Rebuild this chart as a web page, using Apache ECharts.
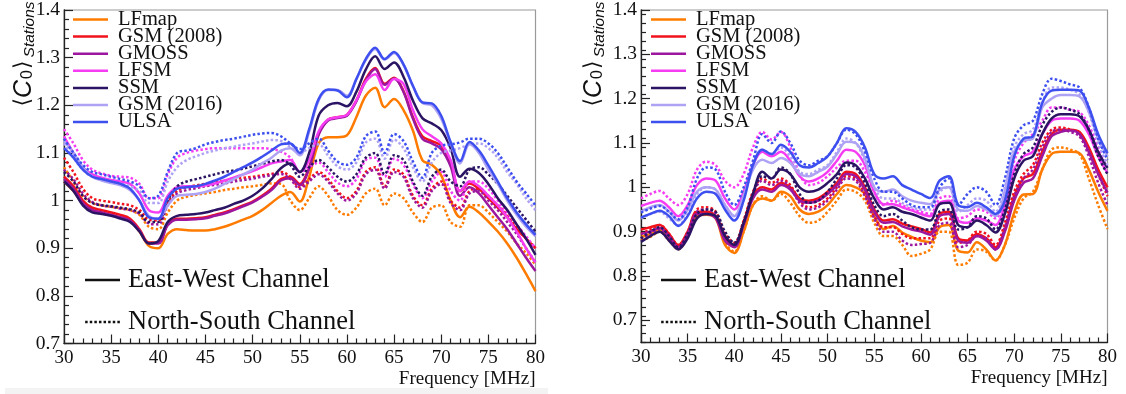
<!DOCTYPE html>
<html><head><meta charset="utf-8">
<script src="https://cdn.jsdelivr.net/npm/echarts@6.0.0/dist/echarts.min.js"></script>
<style>html,body{margin:0;padding:0;background:#fff}#c{width:1126px;height:394px}</style>
</head><body><div id="c"></div>
<script>
// Frequency samples [MHz]
const freq = [30,31,32,33,34,35,36,37,38,39,40,41,42,43,44,45,46,47,48,49,50,51,52,53,54,55,56,57,58,59,60,61,62,63,64,65,66,67,68,69,70,71,72,73,74,75,76,77,78,79,80];

const models = ['LFmap','GSM (2008)','GMOSS','LFSM','SSM','GSM (2016)','ULSA'];
const channelNames = ['East-West Channel','North-South Channel'];
const yTicks = [0.7,0.8,0.9,1.0,1.1,1.2,1.3,1.4];

// ---------- LEFT PANEL : East-West (solid) ----------
const lfmapEW_L = [1.04,1.02,0.995,0.98,0.975,0.97,0.965,0.958,0.935,0.905, 0.9,0.93,0.94,0.938,0.937,0.937,0.94,0.945,0.952,0.96, 0.968,0.98,0.995,1.01,1.018,0.998,1.05,1.12,1.133,1.133, 1.137,1.175,1.22,1.237,1.196,1.213,1.19,1.147,1.085,1.075, 1.053,1.0,0.965,0.987,0.975,0.956,0.935,0.91,0.88,0.846, 0.81];
const gsm08EW_L = [1.05,1.03,1.0,0.985,0.98,0.975,0.97,0.962,0.94,0.912, 0.912,0.95,0.962,0.962,0.963,0.965,0.97,0.975,0.982,0.99, 0.998,1.01,1.025,1.045,1.05,1.035,1.07,1.14,1.17,1.175, 1.18,1.21,1.255,1.278,1.245,1.258,1.23,1.175,1.135,1.125, 1.115,1.08,1.02,1.036,1.025,1.005,0.985,0.965,0.94,0.92, 0.9];
const gmossEW_L = [1.045,1.025,0.995,0.98,0.975,0.97,0.965,0.958,0.937,0.91, 0.91,0.948,0.96,0.96,0.961,0.963,0.968,0.973,0.98,0.988, 0.996,1.008,1.022,1.042,1.047,1.032,1.068,1.138,1.168,1.173, 1.178,1.208,1.252,1.276,1.243,1.256,1.228,1.172,1.13,1.12, 1.108,1.072,1.01,1.028,1.015,0.99,0.965,0.94,0.91,0.88, 0.852];
const lfsmEW_L = [1.135,1.1,1.07,1.055,1.048,1.043,1.04,1.035,1.015,0.98, 0.975,1.01,1.028,1.03,1.03,1.032,1.036,1.042,1.048,1.055, 1.062,1.07,1.078,1.082,1.085,1.06,1.085,1.145,1.17,1.175, 1.18,1.21,1.25,1.265,1.232,1.255,1.245,1.19,1.15,1.135, 1.12,1.085,1.02,1.04,1.03,1.01,0.99,0.965,0.935,0.9, 0.87];
const ssmEW_L = [1.04,1.02,0.99,0.975,0.972,0.968,0.962,0.955,0.935,0.91, 0.915,0.955,0.968,0.97,0.972,0.975,0.98,0.985,0.993,1.0, 1.01,1.025,1.045,1.068,1.078,1.06,1.1,1.178,1.2,1.205, 1.198,1.228,1.275,1.303,1.276,1.29,1.26,1.21,1.173,1.162, 1.148,1.11,1.05,1.067,1.058,1.035,1.005,0.98,0.95,0.92, 0.886];
const gsm16EW_L = [1.125,1.1,1.07,1.05,1.042,1.037,1.032,1.022,1.0,0.968, 0.962,0.99,1.01,1.012,1.014,1.018,1.025,1.035,1.045,1.055, 1.065,1.078,1.09,1.105,1.11,1.095,1.145,1.21,1.232,1.232, 1.22,1.255,1.295,1.318,1.296,1.31,1.285,1.24,1.205,1.2, 1.172,1.12,1.078,1.118,1.1,1.065,1.035,1.0,0.97,0.945, 0.925];
const ulsaEW_L = [1.11,1.09,1.065,1.05,1.045,1.04,1.035,1.025,1.0,0.965, 0.962,1.005,1.025,1.028,1.03,1.035,1.042,1.05,1.06,1.07, 1.08,1.092,1.105,1.118,1.12,1.1,1.15,1.213,1.233,1.231, 1.217,1.255,1.297,1.321,1.297,1.312,1.286,1.241,1.206,1.204, 1.178,1.123,1.083,1.123,1.105,1.074,1.04,1.005,0.975,0.95, 0.928];

// ---------- LEFT PANEL : North-South (dotted) ----------
const lfmapNS_L = [1.07,1.04,1.01,0.995,0.99,0.987,0.984,0.98,0.97,0.945, 0.94,0.975,1.0,1.008,1.012,1.015,1.018,1.022,1.025,1.028, 1.03,1.033,1.036,1.035,1.0,0.98,1.005,1.03,1.01,0.98, 0.97,0.985,1.015,1.025,0.99,1.015,1.005,0.975,0.955,0.985, 0.99,0.955,0.945,0.99,0.99,0.975,0.955,0.935,0.91,0.89, 0.865];
const gsm08NS_L = [1.09,1.06,1.025,1.005,1.0,0.997,0.993,0.99,0.98,0.96, 0.958,0.995,1.02,1.028,1.032,1.035,1.038,1.042,1.045,1.048, 1.05,1.053,1.056,1.06,1.05,1.028,1.045,1.06,1.045,1.02, 1.005,1.02,1.06,1.07,1.03,1.065,1.055,1.01,0.99,1.025, 1.04,1.0,0.985,1.02,1.025,1.01,0.99,0.97,0.945,0.92, 0.9];
const gmossNS_L = [1.065,1.045,1.015,0.997,0.99,0.987,0.983,0.98,0.972,0.952, 0.95,0.99,1.015,1.022,1.026,1.03,1.033,1.036,1.04,1.043, 1.046,1.05,1.053,1.056,1.045,1.025,1.04,1.055,1.04,1.015, 1.0,1.015,1.055,1.065,1.025,1.06,1.05,1.005,0.985,1.02, 1.035,0.995,0.98,1.015,1.02,1.0,0.98,0.955,0.93,0.9, 0.87];
const lfsmNS_L = [1.15,1.12,1.085,1.065,1.057,1.052,1.05,1.048,1.035,1.005, 1.005,1.055,1.09,1.1,1.105,1.108,1.11,1.11,1.11,1.11, 1.11,1.11,1.108,1.103,1.09,1.06,1.07,1.08,1.06,1.038, 1.03,1.045,1.085,1.09,1.05,1.088,1.075,1.035,1.005,1.04, 1.06,1.02,1.0,1.04,1.04,1.025,1.0,0.975,0.95,0.925, 0.9];
const ssmNS_L = [1.06,1.04,1.01,0.995,0.99,0.988,0.985,0.982,0.975,0.955, 0.955,1.0,1.03,1.04,1.045,1.05,1.055,1.06,1.063,1.067, 1.072,1.077,1.082,1.085,1.075,1.05,1.07,1.085,1.07,1.05, 1.04,1.055,1.09,1.1,1.055,1.095,1.085,1.04,1.01,1.05, 1.065,1.04,1.03,1.065,1.07,1.055,1.035,1.01,0.985,0.96, 0.935];
const gsm16NS_L = [1.12,1.09,1.065,1.05,1.045,1.04,1.035,1.03,1.02,0.995, 0.995,1.04,1.07,1.085,1.093,1.1,1.105,1.11,1.113,1.117, 1.12,1.124,1.127,1.125,1.112,1.1,1.11,1.118,1.095,1.072, 1.065,1.08,1.122,1.13,1.088,1.128,1.11,1.07,1.04,1.08, 1.1,1.105,1.11,1.118,1.12,1.11,1.09,1.06,1.035,1.005, 0.98];
const ulsaNS_L = [1.13,1.1,1.075,1.06,1.055,1.05,1.045,1.04,1.03,1.005, 1.01,1.06,1.1,1.105,1.11,1.118,1.123,1.127,1.13,1.134, 1.138,1.141,1.142,1.135,1.12,1.108,1.12,1.13,1.105,1.082, 1.075,1.09,1.135,1.145,1.1,1.14,1.125,1.082,1.048,1.1, 1.115,1.118,1.122,1.13,1.13,1.12,1.1,1.07,1.04,1.015, 0.99];

// ---------- RIGHT PANEL : East-West (solid) ----------
const lfmapEW_R = [0.888,0.895,0.905,0.885,0.862,0.89,0.935,0.938,0.93,0.87, 0.852,0.9,0.96,0.975,0.97,0.99,0.98,0.95,0.94,0.945, 0.96,0.985,1.005,1.0,0.985,0.935,0.906,0.913,0.898,0.888, 0.88,0.876,0.91,0.915,0.857,0.853,0.876,0.86,0.835,0.87, 0.943,0.984,0.985,1.04,1.075,1.08,1.08,1.077,1.04,0.99, 0.947];
const gsm08EW_R = [0.905,0.91,0.915,0.895,0.87,0.9,0.945,0.945,0.935,0.885, 0.868,0.92,0.98,1.0,0.995,1.01,1.0,0.975,0.97,0.975, 0.99,1.01,1.035,1.03,1.0,0.95,0.925,0.928,0.918,0.912, 0.906,0.898,0.94,0.945,0.885,0.88,0.895,0.885,0.865,0.905, 0.98,1.02,1.03,1.08,1.12,1.13,1.13,1.125,1.09,1.04, 1.0];
const gmossEW_R = [0.895,0.9,0.908,0.89,0.865,0.895,0.94,0.94,0.93,0.88, 0.865,0.915,0.975,0.995,0.99,1.005,0.995,0.97,0.965,0.97, 0.985,1.005,1.03,1.025,0.995,0.945,0.92,0.922,0.912,0.905, 0.9,0.893,0.935,0.94,0.88,0.875,0.89,0.88,0.86,0.9, 0.97,1.01,1.02,1.07,1.115,1.125,1.128,1.12,1.08,1.03, 0.988];
const lfsmEW_R = [0.958,0.965,0.97,0.955,0.935,0.96,1.005,1.02,1.015,0.975, 0.95,0.99,1.05,1.08,1.07,1.08,1.06,1.025,1.013,1.02, 1.035,1.06,1.085,1.08,1.05,0.99,0.962,0.962,0.955,0.948, 0.94,0.935,0.965,0.97,0.925,0.92,0.93,0.925,0.915,0.96, 1.04,1.07,1.08,1.12,1.15,1.155,1.155,1.15,1.12,1.07, 1.032];
const ssmEW_R = [0.877,0.89,0.9,0.88,0.86,0.885,0.93,0.94,0.935,0.89, 0.87,0.92,0.985,1.035,1.02,1.04,1.03,1.0,0.99,0.995, 1.01,1.03,1.056,1.05,1.02,0.975,0.95,0.955,0.945,0.94, 0.932,0.925,0.962,0.965,0.915,0.91,0.925,0.915,0.898,0.94, 1.02,1.06,1.07,1.12,1.155,1.165,1.165,1.16,1.13,1.08, 1.044];
const gsm16EW_R = [0.945,0.955,0.96,0.945,0.925,0.95,0.99,1.0,0.995,0.96, 0.935,0.98,1.04,1.062,1.055,1.066,1.055,1.03,1.025,1.035, 1.047,1.075,1.103,1.1,1.065,1.0,0.99,0.995,0.98,0.97, 0.965,0.962,0.995,1.0,0.95,0.947,0.958,0.95,0.935,0.99, 1.08,1.105,1.11,1.18,1.2,1.208,1.208,1.205,1.17,1.11, 1.07];
const ulsaEW_R = [0.932,0.94,0.947,0.935,0.913,0.935,0.975,0.99,0.985,0.95, 0.925,0.97,1.05,1.085,1.075,1.096,1.08,1.05,1.045,1.055, 1.07,1.1,1.133,1.125,1.09,1.03,1.02,1.025,1.005,0.995, 0.985,0.976,1.015,1.025,0.96,0.955,0.965,0.955,0.94,0.97, 1.07,1.11,1.115,1.19,1.218,1.22,1.22,1.218,1.18,1.12, 1.077];

// ---------- RIGHT PANEL : North-South (dotted) ----------
const lfmapNS_R = [0.88,0.888,0.9,0.88,0.86,0.89,0.94,0.94,0.935,0.875, 0.855,0.9,0.96,0.98,0.97,0.985,0.965,0.935,0.92,0.925, 0.945,0.97,0.995,0.99,0.97,0.92,0.89,0.89,0.87,0.845, 0.85,0.86,0.9,0.9,0.825,0.83,0.86,0.855,0.835,0.87, 0.93,0.975,0.99,1.04,1.085,1.09,1.085,1.075,1.02,0.96, 0.906];
const gsm08NS_R = [0.895,0.905,0.915,0.895,0.87,0.9,0.95,0.955,0.945,0.895, 0.875,0.925,0.99,1.02,1.01,1.02,1.005,0.97,0.955,0.96, 0.975,1.0,1.025,1.02,0.985,0.935,0.91,0.91,0.895,0.885, 0.885,0.885,0.925,0.93,0.875,0.88,0.9,0.895,0.87,0.92, 0.99,1.03,1.05,1.1,1.13,1.135,1.13,1.12,1.08,1.03, 0.98];
const gmossNS_R = [0.885,0.895,0.905,0.885,0.862,0.895,0.945,0.95,0.94,0.89, 0.87,0.92,0.985,1.015,1.005,1.015,1.0,0.965,0.95,0.955, 0.97,0.995,1.02,1.015,0.98,0.93,0.9,0.9,0.88,0.87, 0.872,0.875,0.915,0.92,0.865,0.87,0.89,0.885,0.86,0.91, 0.98,1.02,1.04,1.09,1.125,1.13,1.125,1.115,1.07,1.01, 0.96];
const lfsmNS_R = [0.975,0.985,0.992,0.975,0.96,0.985,1.04,1.058,1.05,1.015, 1.0,1.03,1.09,1.125,1.108,1.125,1.09,1.03,1.005,1.01, 1.025,1.045,1.06,1.06,1.035,0.99,0.96,0.97,0.96,0.95, 0.945,0.94,0.975,0.98,0.93,0.935,0.95,0.945,0.93,0.98, 1.06,1.1,1.12,1.15,1.18,1.18,1.175,1.17,1.14,1.09, 1.045];
const ssmNS_R = [0.885,0.9,0.91,0.89,0.865,0.895,0.94,0.95,0.945,0.9, 0.875,0.92,0.985,1.025,1.02,1.045,1.03,0.985,0.965,0.97, 0.99,1.02,1.05,1.045,1.01,0.96,0.935,0.94,0.925,0.91, 0.905,0.905,0.945,0.95,0.905,0.91,0.935,0.93,0.905,0.95, 1.03,1.075,1.09,1.14,1.17,1.18,1.175,1.165,1.13,1.07, 1.03];
const gsm16NS_R = [0.93,0.94,0.945,0.93,0.915,0.94,0.985,1.0,0.995,0.96, 0.935,0.98,1.05,1.085,1.075,1.09,1.07,1.035,1.03,1.04, 1.05,1.08,1.11,1.1,1.06,1.0,0.975,0.975,0.965,0.955, 0.95,0.95,0.99,1.0,0.945,0.96,0.975,0.97,0.945,1.0, 1.09,1.12,1.13,1.19,1.225,1.225,1.22,1.21,1.17,1.1, 1.05];
const ulsaNS_R = [0.943,0.952,0.958,0.945,0.928,0.955,1.02,1.045,1.04,0.99, 0.96,1.0,1.06,1.12,1.1,1.126,1.1,1.06,1.05,1.06, 1.07,1.1,1.13,1.12,1.08,1.02,0.99,0.99,0.975,0.96, 0.955,0.955,1.0,1.02,0.96,0.985,1.0,0.99,0.96,1.02, 1.11,1.14,1.15,1.21,1.245,1.24,1.232,1.225,1.18,1.11, 1.062];

const EW_L = [lfmapEW_L,gsm08EW_L,gmossEW_L,lfsmEW_L,ssmEW_L,gsm16EW_L,ulsaEW_L];
const NS_L = [lfmapNS_L,gsm08NS_L,gmossNS_L,lfsmNS_L,ssmNS_L,gsm16NS_L,ulsaNS_L];
const EW_R = [lfmapEW_R,gsm08EW_R,gmossEW_R,lfsmEW_R,ssmEW_R,gsm16EW_R,ulsaEW_R];
const NS_R = [lfmapNS_R,gsm08NS_R,gmossNS_R,lfsmNS_R,ssmNS_R,gsm16NS_R,ulsaNS_R];

const colors = ['#ff7b00','#f2121c','#9c169e','#f53cf2','#2b1463','#ada2f4','#3e4ff0'];
const SERIF = '"Liberation Serif", "DejaVu Serif", "Times New Roman", serif';
const SANS = '"Liberation Sans", "DejaVu Sans", Arial, sans-serif';
const INK = '#111';

const chart = echarts.init(document.getElementById('c'), null, {renderer:'canvas'});

function minorList(lo, hi){
  const out=[]; for(let k=Math.round(lo*100);k<=Math.round(hi*100);k+=2){ if(k%10!==0) out.push(k/100);} return out;
}
const SOLID_ICON = 'path://M0,0H35V2.5H0Z';
let dotPath = 'path://'; for(let x=0;x<35;x+=4.6){ dotPath += 'M'+x.toFixed(1)+',0h2.5v2.5h-2.5z'; }
const DOT_ICON = dotPath;

function xAxisCfg(g){
  return {type:'value', gridIndex:g, min:30, max:80, interval:5,
    name:'Frequency [MHz]', nameLocation:'end', nameGap:0,
    nameTextStyle:{fontFamily:SERIF,fontSize:19,color:INK,align:'right',verticalAlign:'top',padding:[26,0,0,0]},
    axisLine:{lineStyle:{color:'#222',width:1.3}},
    axisTick:{inside:true,length:9,lineStyle:{color:'#222',width:1.2}},
    minorTick:{show:true,splitNumber:5,length:5,lineStyle:{color:'#222',width:1.2}},
    axisLabel:{fontFamily:SERIF,fontSize:19,color:INK,margin:5},
    splitLine:{show:false}};
}
function yAxisMain(g,min){
  return {type:'value', gridIndex:g, min:min, max:1.4,
    axisLine:{lineStyle:{color:'#222',width:1.3}},
    axisTick:{inside:true,length:9,customValues:yTicks,lineStyle:{color:'#222',width:1.2}},
    axisLabel:{customValues:yTicks,fontFamily:SERIF,fontSize:19.5,color:INK,margin:4,
      formatter:v=>String(Math.round(v*10)/10)},
    splitLine:{show:false}};
}
function yAxisMinor(g,min){
  return {type:'value', gridIndex:g, min:min, max:1.4, position:'left',
    axisLine:{show:false}, axisLabel:{show:false}, splitLine:{show:false},
    axisTick:{show:true,inside:true,length:5,customValues:minorList(min,1.4),lineStyle:{color:'#222',width:1.2}}};
}

const series=[];
function mk(name,color,arr,dotted,g,z){
  series.push({type:'line',name:name,xAxisIndex:g,yAxisIndex:g*2,
    data:freq.map((f,i)=>[f,arr[i]]),
    symbol:'none',showSymbol:false,smooth:0.35,z:z,
    lineStyle:{color:color,width:2.5,type:dotted?[2.5,2.2]:'solid',cap:'butt'},
    itemStyle:{color:color}, emphasis:{disabled:true}});
}
models.forEach((m,i)=>{ mk(m,colors[i],EW_L[i],false,0,2+i); mk(m,colors[i],EW_R[i],false,1,2+i); });
models.forEach((m,i)=>{ mk(m,colors[i],NS_L[i],true,0,2+i); mk(m,colors[i],NS_R[i],true,1,2+i); });
series.push({type:'line',name:channelNames[0],xAxisIndex:0,yAxisIndex:0,data:[],symbol:'none',lineStyle:{color:INK,width:2.5},itemStyle:{color:INK}});
series.push({type:'line',name:channelNames[1],xAxisIndex:0,yAxisIndex:0,data:[],symbol:'none',lineStyle:{color:INK,width:2.5,type:[2.5,2.2]},itemStyle:{color:INK}});

function modelLegend(left){
  return {data:models.map(m=>({name:m,icon:SOLID_ICON})),left:left,top:9,orient:'vertical',padding:0,itemGap:-3.9,itemWidth:35,itemHeight:2.5,
    selectedMode:false,textStyle:{fontFamily:SERIF,fontSize:20.5,color:INK,lineHeight:17,padding:[0,0,0,5]}};
}
function chanLegend(left){
  return {data:[{name:channelNames[0],icon:SOLID_ICON},{name:channelNames[1],icon:DOT_ICON}],left:left,top:266,orient:'vertical',padding:0,itemGap:14,itemWidth:35,itemHeight:2.5,
    selectedMode:false,textStyle:{fontFamily:SERIF,fontSize:26.5,color:INK,lineHeight:28,padding:[0,0,0,3]}};
}

function yTitle(x,y){
  return {type:'text',x:x,y:y,rotation:Math.PI/2,silent:true,z:10,
    style:{text:'{m|⟨}{c|C}{z|0}{m|⟩}{s|Stations}',align:'center',verticalAlign:'middle',fill:INK,
      rich:{
        m:{fontFamily:'"DejaVu Sans"',fontSize:22,fill:INK,lineHeight:26,verticalAlign:'top',padding:[0,0,6,0]},
        c:{fontFamily:SANS,fontStyle:'italic',fontSize:25,fill:INK,lineHeight:26,verticalAlign:'top',padding:[0,1,6,0]},
        z:{fontFamily:SANS,fontSize:16,fill:INK,lineHeight:17,verticalAlign:'bottom',padding:[0,1,2,0]},
        s:{fontFamily:SANS,fontStyle:'italic',fontSize:15.5,fill:INK,lineHeight:17,verticalAlign:'bottom',padding:[0,0,0,3]}
      }}};
}

chart.setOption({
  animation:false,
  backgroundColor:'#fff',
  grid:[
    {left:64,right:590.5,top:7,bottom:50.5,show:true,borderColor:'#9a9a9a',borderWidth:1.2,backgroundColor:'transparent'},
    {left:641,right:18.5,top:9,bottom:51.5,show:true,borderColor:'#9a9a9a',borderWidth:1.2,backgroundColor:'transparent'}
  ],
  xAxis:[xAxisCfg(0),xAxisCfg(1)],
  yAxis:[yAxisMain(0,0.7),yAxisMinor(0,0.7),yAxisMain(1,0.65),yAxisMinor(1,0.65)],
  legend:[modelLegend(73),modelLegend(651),chanLegend(85),chanLegend(661)],
  graphic:[
    {type:'rect',shape:{x:5,y:388,width:543,height:6},style:{fill:'#f3f3f3'},silent:true,z:-10},
    yTitle(25,54), yTitle(595,54)
  ],
  series:series
});
</script></body></html>
